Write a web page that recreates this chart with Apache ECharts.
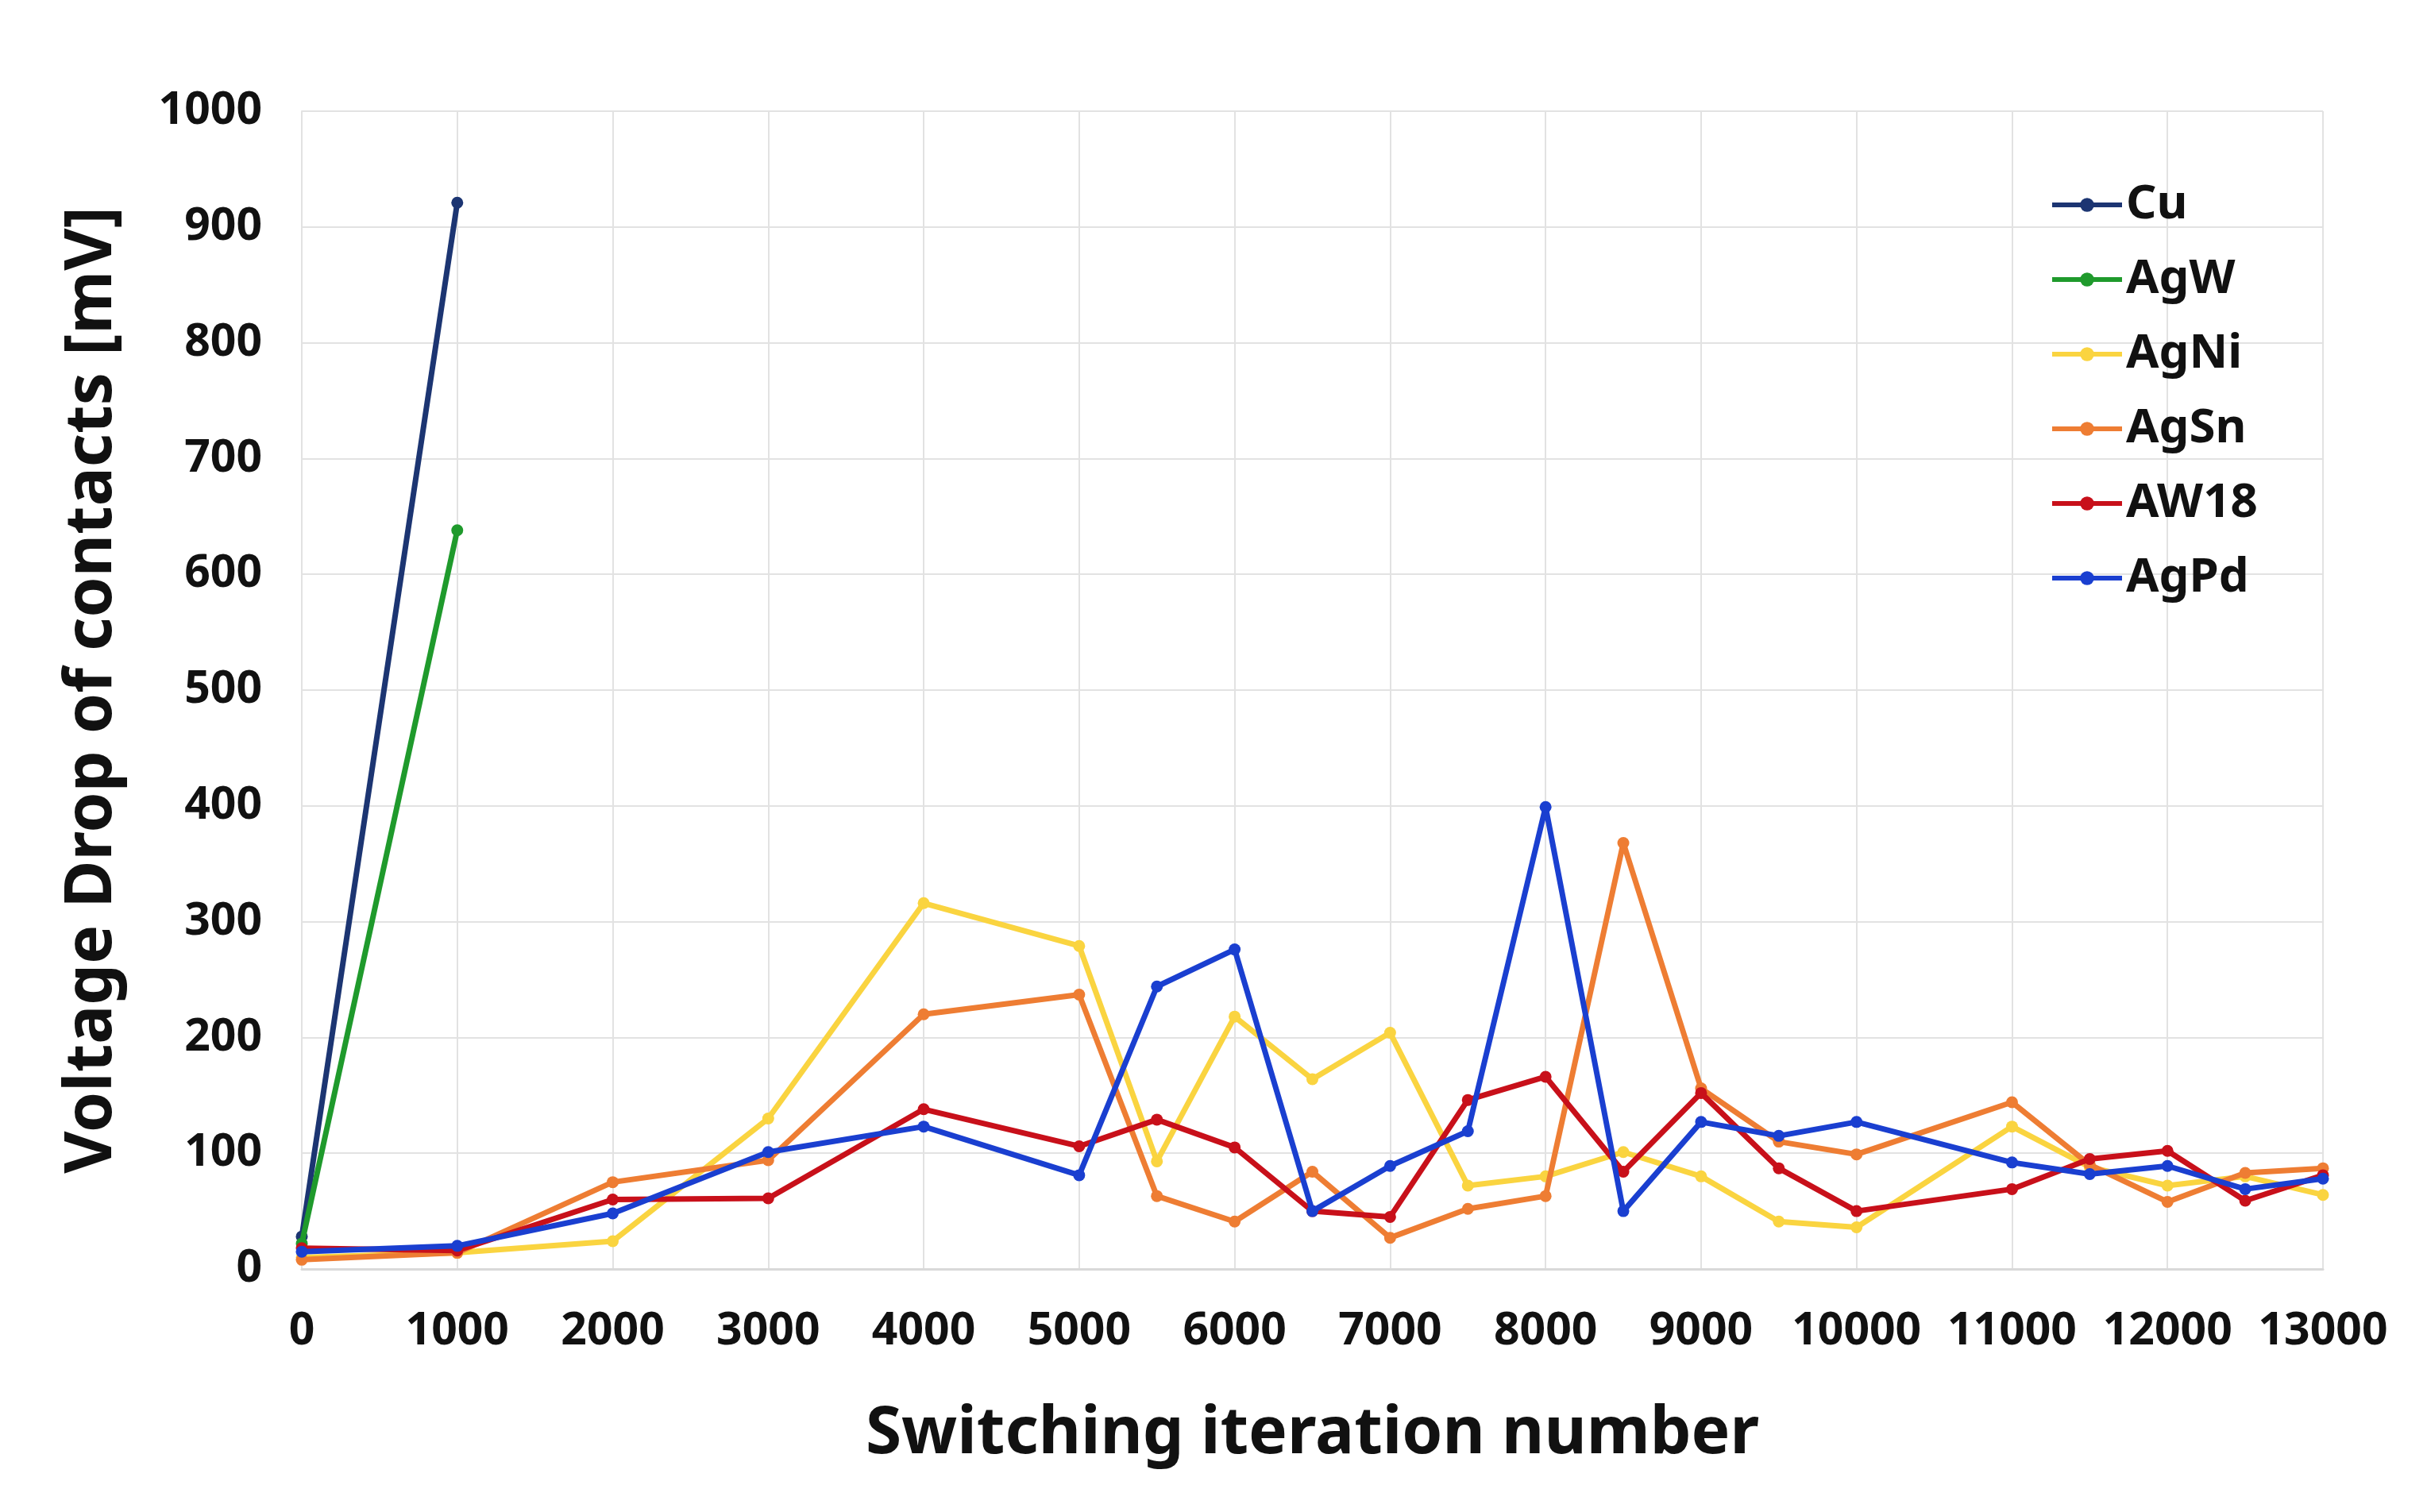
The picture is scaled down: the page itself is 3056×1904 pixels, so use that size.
<!DOCTYPE html>
<html>
<head>
<meta charset="utf-8">
<script src="https://cdn.jsdelivr.net/npm/echarts@6/dist/echarts.min.js"></script>
<style>
html,body{margin:0;padding:0;background:#fff;}
#chart{width:3056px;height:1904px;}
</style>
</head>
<body>
<div id="chart"></div>
<script>
// iteration numbers
const itersShort = [0, 1000];
const iters = [0, 1000, 2000, 3000, 4000, 5000, 5500, 6000, 6500, 7000, 7500, 8000, 8500, 9000, 9500, 10000, 11000, 11500, 12000, 12500, 13000];

// voltage drop values [mV]
const cu   = [28, 921];
const agw  = [22, 638];
const agni = [10, 14, 24, 130, 316, 279, 93, 218, 164, 204, 72, 80, 101, 80, 41, 36, 123, 88, 72, 80, 64];
const agsn = [8, 14, 75, 94, 220, 237, 63, 41, 84, 27, 52, 63, 368, 156, 110, 99, 144, 90, 58, 83, 87];
const aw18 = [18, 16, 60, 61, 138, 106, 129, 105, 50, 45, 146, 166, 84, 152, 87, 50, 69, 95, 102, 59, 81];
const agpd = [15, 20, 48, 101, 123, 81, 244, 276, 50, 89, 119, 399, 50, 127, 115, 127, 92, 82, 89, 69, 78];

const names  = ['Cu', 'AgW', 'AgNi', 'AgSn', 'AW18', 'AgPd'];
const colors = ['#1c3572', '#1f9a2c', '#fad440', '#ee7d33', '#c8101a', '#1a3fd0'];

function pairs(xs, ys) { return xs.map((x, i) => [x, ys[i]]); }

const seriesData = [
  pairs(itersShort, cu),
  pairs(itersShort, agw),
  pairs(iters, agni),
  pairs(iters, agsn),
  pairs(iters, aw18),
  pairs(iters, agpd)
];

const chart = echarts.init(document.getElementById('chart'));
const font = '"Noto Sans", "DejaVu Sans", sans-serif';

chart.setOption({
  backgroundColor: '#ffffff',
  animation: false,
  grid: { left: 380, right: 131, top: 140, bottom: 306 },
  legend: {
    orient: 'vertical',
    left: 2576,
    top: 222,
    itemWidth: 88,
    itemHeight: 22,
    itemGap: 32,
    data: names,
    lineStyle: { width: 6 },
    textStyle: { fontFamily: font, fontSize: 60, fontWeight: 'bold', color: '#111', lineHeight: 62 }
  },
  xAxis: {
    type: 'value',
    min: 0, max: 13000, interval: 1000,
    name: 'Switching iteration number',
    nameLocation: 'middle',
    nameGap: 168,
    nameTextStyle: { fontFamily: font, fontSize: 82, fontWeight: 'bold', color: '#111' },
    axisLine: { show: true, lineStyle: { color: '#d9d9d9', width: 3 } },
    axisTick: { show: false },
    axisLabel: { fontFamily: font, fontSize: 57, fontWeight: 'bold', color: '#111', margin: 50,
                 formatter: v => String(v) },
    splitLine: { show: true, lineStyle: { color: '#e2e2e2', width: 2 } }
  },
  yAxis: {
    type: 'value',
    min: 0, max: 1000, interval: 100,
    name: 'Voltage Drop of contacts [mV]',
    nameLocation: 'middle',
    nameGap: 222,
    nameTextStyle: { fontFamily: font, fontSize: 82, fontWeight: 'bold', color: '#111' },
    axisLine: { show: true, lineStyle: { color: '#e2e2e2', width: 2 } },
    axisTick: { show: false },
    axisLabel: { fontFamily: font, fontSize: 57, fontWeight: 'bold', color: '#111', margin: 50,
                 formatter: v => String(v) },
    splitLine: { show: true, lineStyle: { color: '#e2e2e2', width: 2 } }
  },
  series: names.map((n, i) => ({
    name: n,
    type: 'line',
    data: seriesData[i],
    symbol: 'circle',
    symbolSize: 15,
    showSymbol: true,
    clip: false,
    lineStyle: { color: colors[i], width: 7 },
    itemStyle: { color: colors[i] },
    z: 2 + i
  }))
});
</script>
</body>
</html>
